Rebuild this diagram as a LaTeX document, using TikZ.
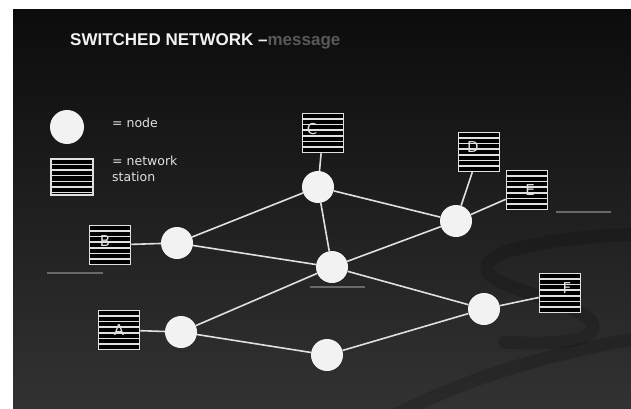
\documentclass[tikz,border=0pt]{standalone}
\usepackage{fontspec}
\setmainfont{DejaVu Sans}
\newfontfamily\titlefont{Liberation Sans}
\usetikzlibrary{calc}
\definecolor{bgTop}{RGB}{12,12,12}
\definecolor{bgBot}{RGB}{50,50,50}
\definecolor{wireGray}{RGB}{224,224,224}
\definecolor{nodeWhite}{RGB}{242,242,242}
\definecolor{dimGray}{RGB}{88,88,88}
\definecolor{dashGray}{RGB}{105,105,105}

\begin{document}
\begin{tikzpicture}[x=1pt,y=-1pt,
        sw/.style={circle, fill=nodeWhite, minimum size=32pt, inner sep=0pt},
        stn/.style={draw=wireGray, line width=1.5pt, fill=black, inner sep=0pt,
                    minimum width=41pt, minimum height=39pt,
                    path picture={\foreach \k in {1,...,6}
                      \draw[wireGray,line width=1.5pt]
                        ([yshift=-\k*39pt/7]path picture bounding box.north west) --
                        ([yshift=-\k*39pt/7]path picture bounding box.north east);}},
        ltr/.style={font=\fontsize{15}{15}\selectfont, text=wireGray, inner sep=0pt},
        lnk/.style={wireGray, line width=1.6pt},
        leg/.style={font=\fontsize{12.5}{16}\selectfont, text=wireGray, align=left, inner sep=0pt},
        swoosh/.style={black, opacity=0.16, line width=13pt, line cap=round}
      ]
        \useasboundingbox (0,0) rectangle (631,409);
        % BACKGROUND
        \fill[white] (0,0) rectangle (631,409);
        \shade[top color=bgTop, bottom color=bgBot] (13,10) rectangle (631,409);
        \begin{scope}
          \clip (13,10) rectangle (631,409);
          \draw[swoosh] (640,234) .. controls (540,238) and (478,252) .. (488,272)
                .. controls (498,290) and (570,300) .. (590,320)
                .. controls (605,340) and (560,346) .. (505,342);
          \draw[swoosh] (395,415) .. controls (480,372) and (560,352) .. (640,338);
        \end{scope}

        % TITLE
        \node[anchor=base west, inner sep=0pt, font=\titlefont\bfseries\fontsize{17}{17}\selectfont, text=nodeWhite]
          (ttl) at (70,46) {SWITCHED NETWORK \textendash\textcolor{dimGray}{message}};

        % LEGEND
        \node[sw, minimum size=34pt] (legsw) at (67,127) {};
        \node[stn, minimum width=42pt, minimum height=36pt] (legstn) at (72,177) {};
        \node[leg, anchor=base west] (legswtxt) at (112,128) {= node};
        \node[leg, anchor=base west] (legstntxt) at (112,181) {= network\\station};

        % STATIONS
        \node[stn, label={[ltr,xshift=-11pt,yshift=4pt]center:C}] (stC) at (323,133) {};
        \node[stn, label={[ltr,xshift=-6pt,yshift=5pt]center:D}] (stD) at (479,152) {};
        \node[stn, label={[ltr,xshift=3pt]center:E}] (stE) at (527,190) {};
        \node[stn, label={[ltr,xshift=-5pt,yshift=4pt]center:B}] (stB) at (110,245) {};
        \node[stn, label={[ltr]center:A}] (stA) at (119,330) {};
        \node[stn, label={[ltr,xshift=7pt,yshift=5pt]center:F}] (stF) at (560,293) {};

        % SWITCHING NODES
        \node[sw] (swB) at (177,243) {};
        \node[sw] (swA) at (181,332) {};
        \node[sw] (swC) at (318,187) {};
        \node[sw] (swDE) at (456,221) {};
        \node[sw] (swM) at (332,267) {};
        \node[sw] (swF) at (484,309) {};
        \node[sw] (swL) at (327,355) {};

        % UNDERLINES
        \draw[dashGray, line width=2.5pt] (47,273) -- (103,273);
        \draw[dashGray, line width=2.5pt] (310,287) -- (365,287);
        \draw[dashGray, line width=1.8pt] (556,212) -- (611,212);

        % LINKS
        \draw[lnk] (stB) -- (swB);
        \draw[lnk] (stA) -- (swA);
        \draw[lnk] (stC) -- (swC);
        \draw[lnk] (stD) -- (swDE);
        \draw[lnk] (stE) -- (swDE);
        \draw[lnk] (stF) -- (swF);
        \draw[lnk] (swB) -- (swC);
        \draw[lnk] (swB) -- (swM);
        \draw[lnk] (swA) -- (swM);
        \draw[lnk] (swA) -- (swL);
        \draw[lnk] (swC) -- (swDE);
        \draw[lnk] (swC) -- (swM);
        \draw[lnk] (swM) -- (swDE);
        \draw[lnk] (swM) -- (swF);
        \draw[lnk] (swL) -- (swF);
      \end{tikzpicture}
\end{document}
